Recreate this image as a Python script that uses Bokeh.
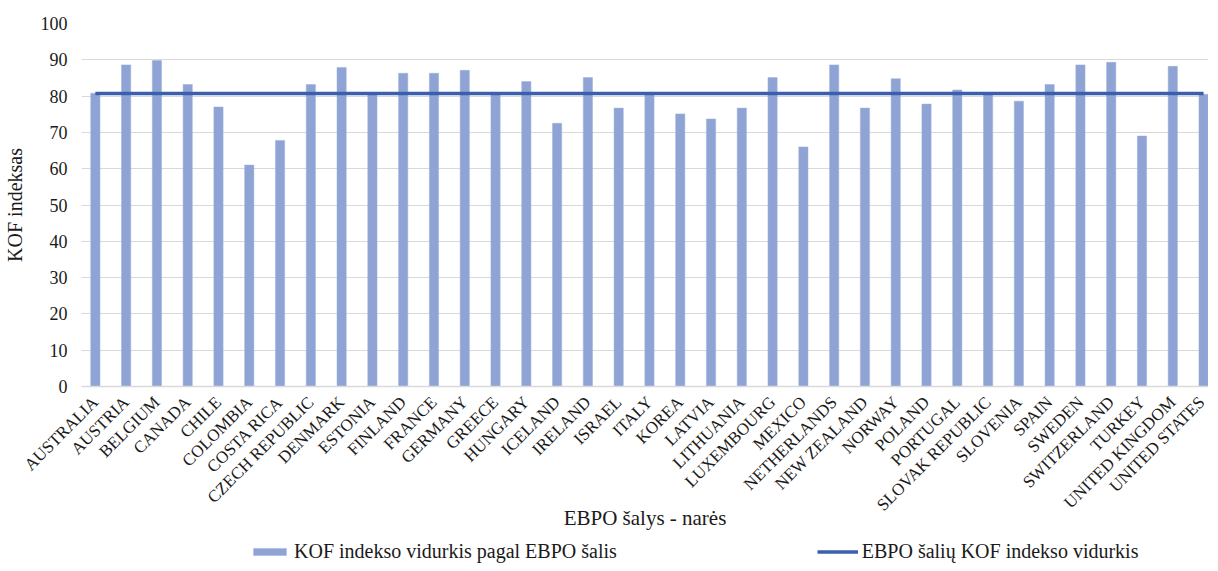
import numpy as np
from bokeh.plotting import figure
from bokeh.layouts import column
from bokeh.models import Range1d, FixedTicker, Legend, LegendItem
from bokeh.embed import file_html
from bokeh.resources import INLINE

countries = ["AUSTRALIA", "AUSTRIA", "BELGIUM", "CANADA", "CHILE", "COLOMBIA",
             "COSTA RICA", "CZECH REPUBLIC", "DENMARK", "ESTONIA", "FINLAND",
             "FRANCE", "GERMANY", "GREECE", "HUNGARY", "ICELAND", "IRELAND",
             "ISRAEL", "ITALY", "KOREA", "LATVIA", "LITHUANIA", "LUXEMBOURG",
             "MEXICO", "NETHERLANDS", "NEW ZEALAND", "NORWAY", "POLAND",
             "PORTUGAL", "SLOVAK REPUBLIC", "SLOVENIA", "SPAIN", "SWEDEN",
             "SWITZERLAND", "TURKEY", "UNITED KINGDOM", "UNITED STATES"]
kof_values = [80.8, 88.6, 89.8, 83.2, 77.0, 61.0, 67.8, 83.2, 87.9, 80.4, 86.3,
              86.3, 87.1, 80.5, 84.0, 72.5, 85.1, 76.7, 80.5, 75.1, 73.7, 76.7,
              85.1, 66.0, 88.6, 76.7, 84.8, 77.8, 81.7, 80.5, 78.6, 83.2, 88.6,
              89.3, 69.0, 88.2, 80.5]
oecd_mean = 80.7
y_ticks = [0, 10, 20, 30, 40, 50, 60, 70, 80, 90, 100]

bar_label = "KOF indekso vidurkis pagal EBPO šalis"
line_label = "EBPO šalių KOF indekso vidurkis"
x_title = "EBPO šalys - narės"
y_title = "KOF indeksas"

FONT = "Liberation Serif"
TXT = "#1a1a1a"
BAR_FILL = "#8FA4D5"
BAR_EDGE = "#9DB0DC"
LINE_COLOR = "#3C5FAD"

x = list(range(len(countries)))
mean_series = [oecd_mean] * len(countries)

p = figure(frame_width=1127, frame_height=363, output_backend="svg",
           toolbar_location=None,
           x_range=Range1d(-0.45, 36.16), y_range=Range1d(0, 100),
           min_border_left=75, min_border_right=0, min_border_top=23,
           min_border_bottom=0)

bars = p.vbar(x=x, top=kof_values, width=0.3, fill_color=BAR_FILL,
              line_color=BAR_EDGE, line_width=0.5)
line = p.line(x=x, y=mean_series, line_color=LINE_COLOR, line_width=3.5)

p.outline_line_color = None
p.xgrid.grid_line_color = None
p.ygrid.grid_line_color = "#d9d9d9"
p.ygrid.grid_line_width = 1.2

p.yaxis.ticker = FixedTicker(ticks=y_ticks)
p.yaxis.axis_line_color = None
p.yaxis.major_tick_line_color = None
p.yaxis.minor_tick_line_color = None
p.yaxis.major_tick_out = 0
p.yaxis.minor_tick_out = 0
p.yaxis.major_label_text_font = FONT
p.yaxis.major_label_text_font_size = "18px"
p.yaxis.major_label_text_color = TXT
p.yaxis.major_label_standoff = 14
p.yaxis.axis_label = y_title
p.yaxis.axis_label_text_font = FONT
p.yaxis.axis_label_text_font_size = "20px"
p.yaxis.axis_label_text_font_style = "normal"
p.yaxis.axis_label_text_color = TXT
p.yaxis.axis_label_standoff = 12

p.xaxis.ticker = FixedTicker(ticks=x)
p.xaxis.major_label_overrides = {i: c for i, c in enumerate(countries)}
p.xaxis.major_label_orientation = np.pi / 4
p.xaxis.axis_line_color = "#d9d9d9"
p.xaxis.axis_line_width = 1.5
p.xaxis.major_tick_line_color = None
p.xaxis.minor_tick_line_color = None
p.xaxis.major_tick_out = 0
p.xaxis.minor_tick_out = 0
p.xaxis.major_label_text_font = FONT
p.xaxis.major_label_text_font_size = "17px"
p.xaxis.major_label_text_color = TXT
p.xaxis.major_label_standoff = 13
p.xaxis.axis_label = x_title
p.xaxis.axis_label_text_font = FONT
p.xaxis.axis_label_text_font_size = "21px"
p.xaxis.axis_label_text_font_style = "normal"
p.xaxis.axis_label_text_color = TXT
p.xaxis.axis_label_standoff = -18

# legend strip under the chart; its renderers draw the same series but
# outside the strip's visible y-range, so only the legend keys show
lg = figure(width=1202, height=30, output_backend="svg", toolbar_location=None,
            x_range=Range1d(-0.45, 36.16), y_range=Range1d(1000, 1001),
            x_axis_location=None, y_axis_location=None,
            min_border_left=75, min_border_right=0, min_border_top=0,
            min_border_bottom=0)
lg.outline_line_color = None
lg.xgrid.grid_line_color = None
lg.ygrid.grid_line_color = None
bar_key = lg.vbar(x=x, top=kof_values, width=0.3, fill_color=BAR_FILL,
                  line_color=BAR_EDGE, line_width=0.5)
line_key = lg.line(x=x, y=mean_series, line_color=LINE_COLOR, line_width=3.5)

legend = Legend(items=[LegendItem(label=bar_label, renderers=[bar_key]),
                       LegendItem(label=line_label, renderers=[line_key])],
                orientation="horizontal", location=(168, 0), spacing=200,
                glyph_width=41, glyph_height=9, label_standoff=4,
                label_height=20,
                label_text_font=FONT, label_text_font_size="20px",
                label_text_color=TXT, border_line_color=None,
                background_fill_alpha=0, padding=0, margin=0)
lg.add_layout(legend, "center")

layout = column(p, lg, spacing=0)
open("out.html", "w").write(file_html(layout, INLINE))
